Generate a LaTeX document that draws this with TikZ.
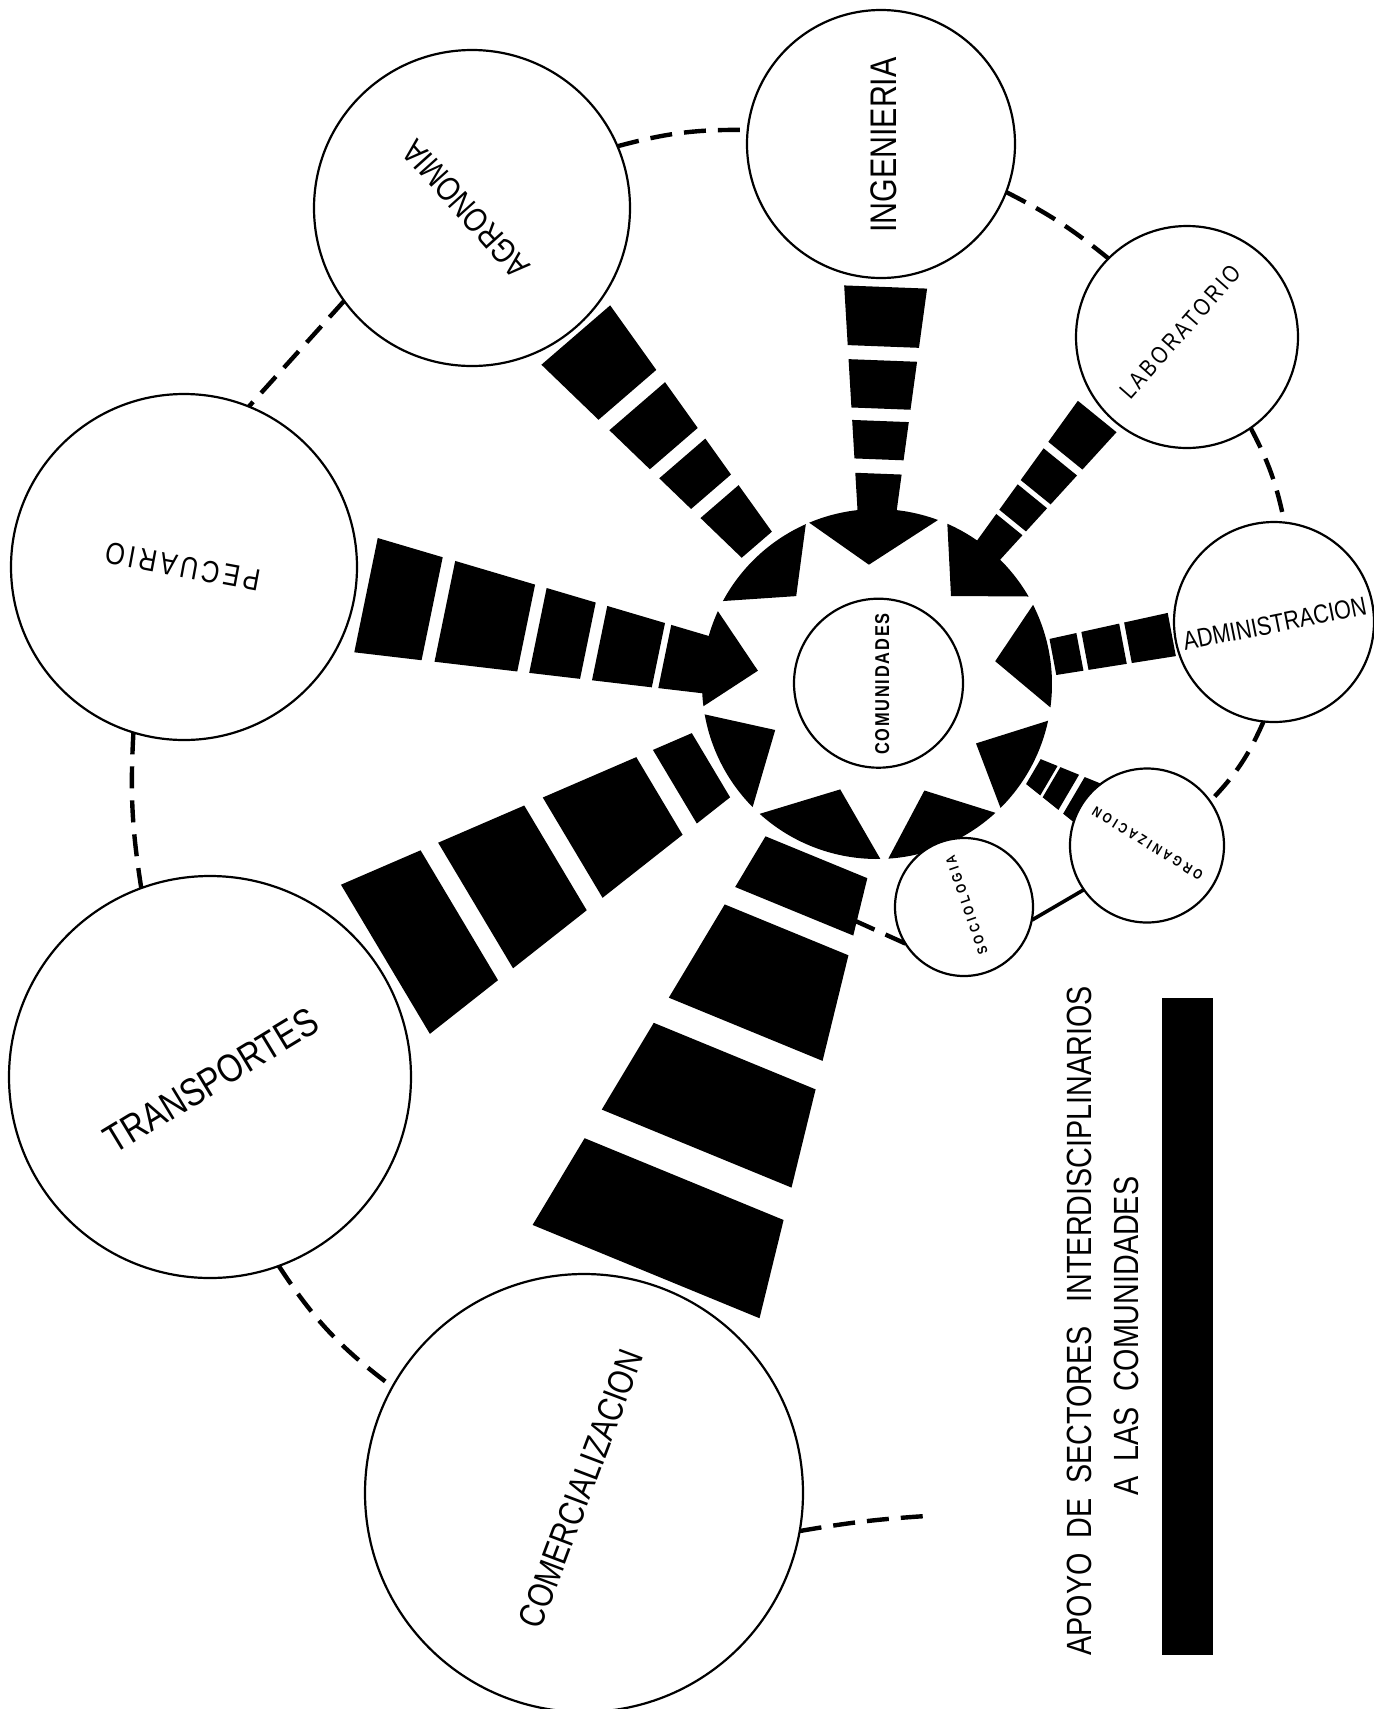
\documentclass[tikz,border=0pt]{standalone}
\usepackage{fontspec}
\newfontfamily\lbl[FakeStretch=0.82]{Liberation Sans}
\usetikzlibrary{calc}
\pgfdeclarelayer{bg}
\pgfsetlayers{bg,main}
% one trapezoidal bar of an arrow: T, angle, d1, d2, a, b  (width = a + b*d)
\newcommand\aseg[6]{%
  \fill ($(#1)+(#2:#3)+({#2+90}:{(#5+#6*#3)/2})$) -- ($(#1)+(#2:#4)+({#2+90}:{(#5+#6*#4)/2})$) --
        ($(#1)+(#2:#4)+({#2-90}:{(#5+#6*#4)/2})$) -- ($(#1)+(#2:#3)+({#2-90}:{(#5+#6*#3)/2})$) -- cycle;}
\newcommand\segarrow[5]{\foreach \dA/\dB in {#5} {\aseg{#1}{#2}{\dA}{\dB}{#3}{#4}}}
\newcommand\gearpiece[3]{%
  \fill #1 -- plot[domain=#2:#3, samples=30] ({877+175*cos(\x)},{684+175*sin(\x)}) -- cycle;}
\begin{document}
\begin{tikzpicture}[x=0.5pt,y=-0.5pt,
  circ/.style={circle, draw, fill=white, line width=1.1pt, inner sep=0pt, outer sep=0pt},
  conn/.style={line width=2.2pt, dash pattern=on 11pt off 6pt},
  lbl/.style={inner sep=0pt, anchor=center}]
\useasboundingbox (0,0) rectangle (1374,1709);

% circles
\node[circ, minimum size=158pt] (agro) at (472,208) {};
\node[circ, minimum size=134pt] (ing) at (881,144) {};
\node[circ, minimum size=111pt] (lab) at (1187,337) {};
\node[circ, minimum size=100pt] (adm) at (1274,622) {};
\node[circ, minimum size=77pt] (org) at (1147,845.5) {};
\node[circ, minimum size=69pt] (soc) at (964,907) {};
\node[circ, minimum size=173pt] (pec) at (184,567) {};
\node[circ, minimum size=201pt] (tra) at (210,1077) {};
\node[circ, minimum size=219pt] (com) at (584,1493) {};
\node[circ, minimum size=84.5pt] (comu) at (878.5,683.2) {};

% labels
\node[lbl, rotate=131.9, font={\lbl\fontsize{16.8pt}{17pt}\selectfont}] (agroT) at (466,209) {AGRONOMIA};
\node[lbl, rotate=90, font={\lbl\fontsize{18.5pt}{19pt}\selectfont}] (ingT) at (884,145) {INGENIERIA};
\node[lbl, rotate=48.65, font={\lbl\fontsize{12pt}{12pt}\selectfont\addfontfeatures{LetterSpace=12}}] (labT) at (1180,332) {LABORATORIO};
\node[lbl, rotate=11.3, font={\lbl\fontsize{13.1pt}{13pt}\selectfont}] (admT) at (1274.7,623.7) {ADMINISTRACION};
\node[lbl, rotate=169.5, font={\lbl\fontsize{15.35pt}{15pt}\selectfont\addfontfeatures{LetterSpace=11.7}}] (pecT) at (182.6,566.6) {PECUARIO};
\node[lbl, rotate=31.2, font={\lbl\fontsize{19.7pt}{20pt}\selectfont}] (traT) at (211.2,1080.5) {TRANSPORTES};
\node[lbl, rotate=69.3, font={\lbl\fontsize{17.9pt}{18pt}\selectfont}] (comT) at (580.9,1488.8) {COMERCIALIZACION};
\node[lbl, rotate=148.4, font={\lbl\bfseries\fontsize{7pt}{7pt}\selectfont\addfontfeatures{LetterSpace=24}}] (orgT) at (1147.5,843.3) {ORGANIZACION};
\node[lbl, rotate=109, font={\lbl\bfseries\fontsize{7pt}{7pt}\selectfont\addfontfeatures{LetterSpace=24}}] (socT) at (966.7,905) {SOCIOLOGIA};
\node[lbl, rotate=90, font={\lbl\bfseries\fontsize{10pt}{10pt}\selectfont\addfontfeatures{LetterSpace=9}}] (comuT) at (882.3,684) {COMUNIDADES};

% title
\node[lbl, rotate=90, font={\lbl\fontsize{17.5pt}{18pt}\selectfont}] (t1) at (1079,1321)
  {APOYO\hspace{7.5pt}DE\hspace{7.5pt}SECTORES\hspace{12pt}INTERDISCIPLINARIOS};
\node[lbl, rotate=90, font={\lbl\fontsize{17.5pt}{18pt}\selectfont}] (t2) at (1126,1336)
  {A\hspace{7.5pt}LAS\hspace{7.5pt}COMUNIDADES};
\fill (1161.5,998) rectangle (1213.4,1655);

\begin{pgfonlayer}{bg}
\fill[white] (0,0) rectangle (1374,1709);
% dashed ring
\draw[conn] (agro.23) to[bend left=8] (ing.174);
\draw[conn] (ing.-21) to[bend left=6] (lab.135);
\draw[conn] (lab.-55) to[bend left=8] (adm.84);
\draw[conn] (adm.-96) to[bend left=10] (org.35);
\draw[line width=1.8pt] (org.215) -- (soc.-11);
\coordinate (socend) at (820,905);
\draw[conn] (soc.212) -- (socend);
\draw[conn] (tra.-70) to[bend right=10] (com.151);
\draw[conn] (pec.-107) to[bend right=6] (tra.110);
\draw[conn] (agro.-144) -- (pec.68);
\coordinate (comend) at (926,1516);
\draw[conn] (com.-10) to[bend left=3] (comend);

% arrow axes reference points
\coordinate (Tagro) at (877,684);
\coordinate (Ting) at (870.5,681);
\coordinate (Tlab) at (879,685);
\coordinate (Tadm) at (878,690);
\coordinate (Torg) at (879,681);
\coordinate (Tcom) at (886,688);
\coordinate (Ttra) at (869,671);
\coordinate (Tpec) at (873.9,699.4);

\segarrow{Tagro}{-130.8}{6}{0.184}{184/241, 254/298, 311/367, 382/461}
\segarrow{Ting}{-87.8}{5.7}{0.196}{160/207.5, 221.8/260.2, 272.6/320.8, 334.8/394.3}
\segarrow{Tlab}{-50.9}{10}{0.115}{150/206.7, 211.9/243.2, 248.4/287.5, 295.5/346}
\segarrow{Tadm}{-10.7}{26}{0.06}{178/205.5, 210.6/249.3, 254.4/299}
\segarrow{Torg}{30.4}{-23}{0.29}{179/197, 200/220, 226/250}
\segarrow{Tcom}{112.35}{54.8}{0.302}{183/241.4, 261.5/369, 398/498, 531/631}
\segarrow{Ttra}{149.2}{26.7}{0.261}{184/226, 244/345, 365/458, 477/563}
\segarrow{Tpec}{191.6}{28}{0.171}{160/213.5, 220/280, 292/343, 355/438, 451/518.5}

% star / gear pieces
\gearpiece{(995.2,661.2)}{-26.9}{7.7}
\gearpiece{(951,596)}{-66.3}{-30}
\gearpiece{(868.9,564.7)}{-112.8}{-69.6}
\gearpiece{(796.2,596.1)}{-151.7}{-114}
\gearpiece{(757.9,670.7)}{172.7}{204.6}
\gearpiece{(775.2,730)}{135.3}{170}
\gearpiece{(840.2,789.4)}{88.9}{132.1}
\gearpiece{(924.4,790.5)}{47.4}{86.3}
\gearpiece{(976,743.4)}{12.1}{45.1}
\end{pgfonlayer}
\end{tikzpicture}
\end{document}
